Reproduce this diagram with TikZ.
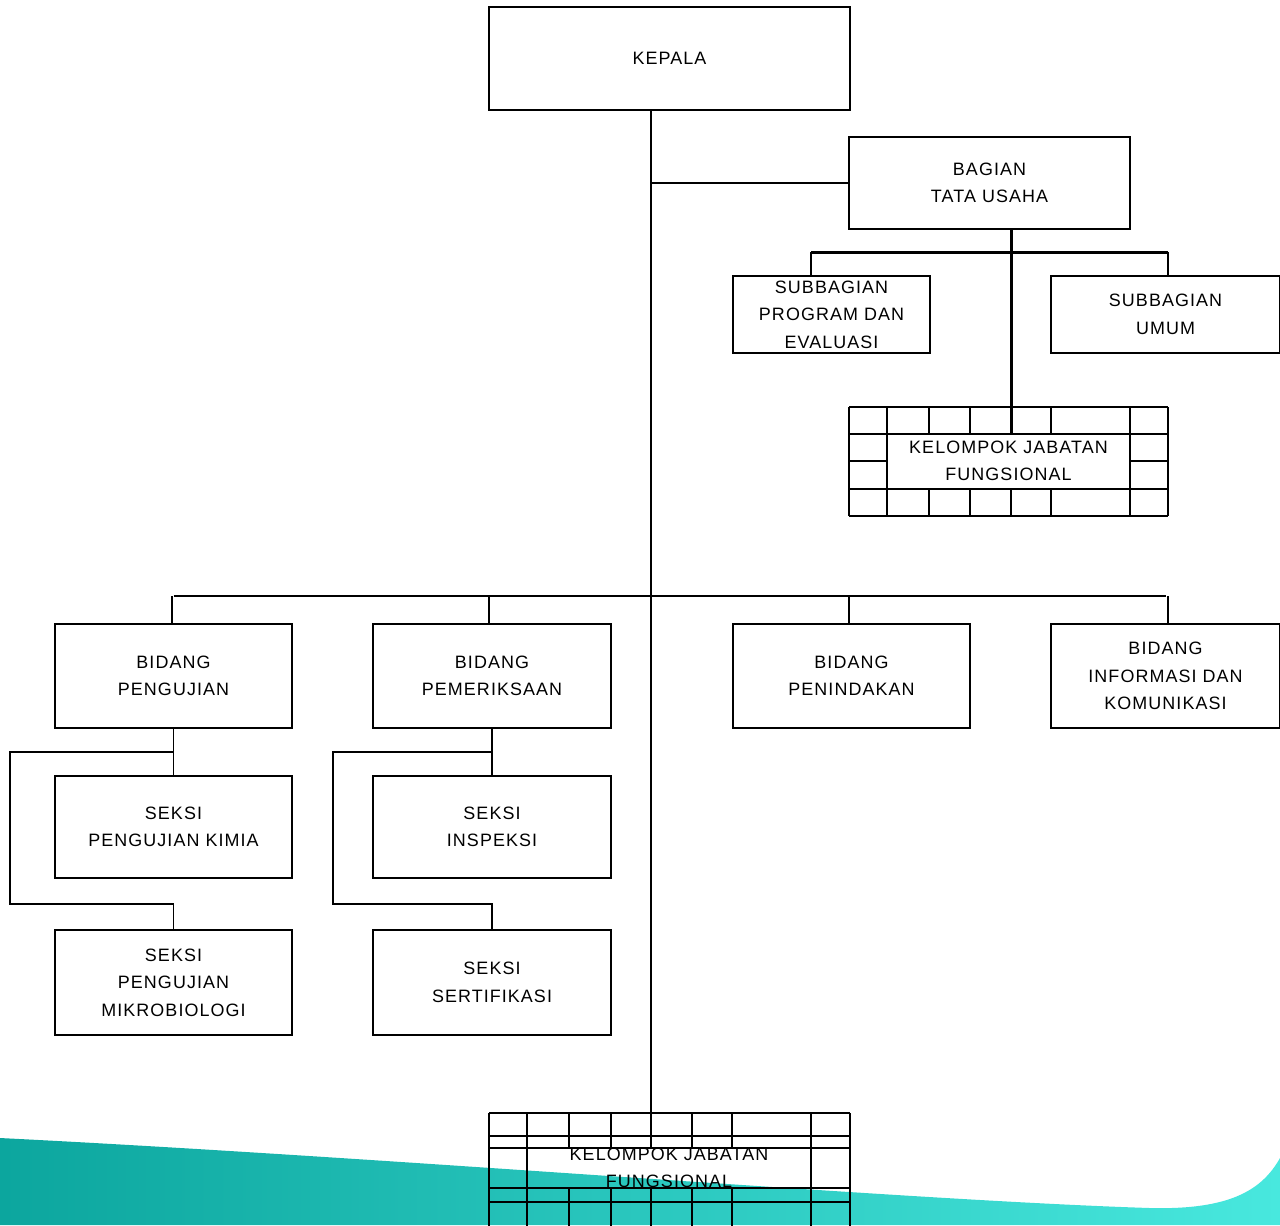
\documentclass[tikz,border=0pt]{standalone}
\usepackage{fontspec}
\setmainfont[LetterSpace=6]{Liberation Sans}
\usepackage{tikz}
\usepackage{xcolor}
\usetikzlibrary{calc}
\definecolor{tealdark}{RGB}{12,166,158}
\definecolor{teallight}{RGB}{72,232,222}

\begin{document}
\begin{tikzpicture}[x=0.02cm, y=-0.02cm,
  line width=0.6pt,
  box/.style={draw, line width=0.8pt, align=center, inner sep=0pt,
    font=\fontsize{10.2}{15.6}\selectfont},
  bar/.style={line width=1.7pt},
  cell/.style={line width=0.7pt},
  bold cell/.style={line width=1.5pt}]
  \useasboundingbox (0,0) rectangle (1280,1225);

  % background wave
  \shade[left color=tealdark, right color=teallight]
    (0,1138) .. controls (400,1158) and (900,1200) .. (1150,1208)
    .. controls (1230,1210) and (1262,1190) .. (1280,1158)
    -- (1280,1225) -- (0,1225) -- cycle;

  % top level
  \node[box, minimum width=7.22cm, minimum height=2.06cm] (kepala) at (669.5,58.5) {KEPALA};
  \node[box, minimum width=5.62cm, minimum height=1.84cm] (tu) at (989.5,183) {BAGIAN\\TATA USAHA};
  \node[box, minimum width=3.94cm, minimum height=1.54cm] (sbprog) at (831.5,314.5) {SUBBAGIAN\\PROGRAM DAN\\EVALUASI};
  \node[box, minimum width=4.58cm, minimum height=1.54cm] (sbumum) at (1165.5,314.5) {SUBBAGIAN\\UMUM};

  % bidang
  \node[box, minimum width=4.74cm, minimum height=2.08cm] (bpengujian) at (173.5,676) {BIDANG\\PENGUJIAN};
  \node[box, minimum width=4.76cm, minimum height=2.08cm] (bpemeriksaan) at (492,676) {BIDANG\\PEMERIKSAAN};
  \node[box, minimum width=4.74cm, minimum height=2.08cm] (bpenindakan) at (851.5,676) {BIDANG\\PENINDAKAN};
  \node[box, minimum width=4.58cm, minimum height=2.08cm] (binfo) at (1165.5,676) {BIDANG\\INFORMASI DAN\\KOMUNIKASI};

  % seksi
  \node[box, minimum width=4.74cm, minimum height=2.04cm] (skimia) at (173.5,827) {SEKSI\\PENGUJIAN KIMIA};
  \node[box, minimum width=4.74cm, minimum height=2.10cm] (smikro) at (173.5,982.5) {SEKSI\\PENGUJIAN\\MIKROBIOLOGI};
  \node[box, minimum width=4.76cm, minimum height=2.04cm] (sinspeksi) at (492,827) {SEKSI\\INSPEKSI};
  \node[box, minimum width=4.76cm, minimum height=2.10cm] (ssertifikasi) at (492,982.5) {SEKSI\\SERTIFIKASI};

  % kelompok jabatan fungsional (text only, grid below)
  \node[box, draw=none, minimum width=4.86cm, minimum height=1.10cm] (kjfa) at (1008.5,461) {KELOMPOK JABATAN\\FUNGSIONAL};
  \node[box, draw=none, minimum width=5.68cm, minimum height=0.80cm] (kjfb) at (669,1168) {KELOMPOK JABATAN\\FUNGSIONAL};

  % grid round upper kjf
  \foreach \y/\s in {407/cell,434/bold cell,489/cell,516/bold cell}
    \draw[\s] (849,\y) -- (1168,\y);
  \draw[cell] (849,461) -- (887,461) (1130,461) -- (1168,461);
  \foreach \x/\s in {849/cell,887/bold cell,1130/cell,1168/cell}
    \draw[\s] (\x,407) -- (\x,516);
  \foreach \x/\s in {929/cell,970/cell,1011/bold cell,1051/cell}
    \draw[\s] (\x,407) -- (\x,434) (\x,489) -- (\x,516);

  % grid round lower kjf
  \foreach \y/\s in {1113/bold cell,1136/cell,1148/cell,1188/cell,1202/cell}
    \draw[\s] (489,\y) -- (850,\y);
  \foreach \x/\s in {489/cell,527/bold cell,811/cell,850/cell}
    \draw[\s] (\x,1113) -- (\x,1230);
  \foreach \x/\s in {569/cell,611/cell,651/cell,692/cell,732/bold cell}
    \draw[\s] (\x,1113) -- (\x,1148) (\x,1188) -- (\x,1230);

  % spine
  \coordinate (sp) at (651,0);
  \coordinate (kjfbtop) at (651,1113);
  \draw (kepala.south -| sp) -- (kjfbtop);
  \draw (sp |- tu.west) -- (tu.west);

  % tata usaha branches
  \coordinate (dropL) at (811,252);
  \coordinate (dropR) at (1168,252);
  \draw[bar] ([xshift=0.43cm]tu.south) -- ([xshift=0.43cm]tu.south |- kjfa.north);
  \draw[bar] (dropL) -- (dropR);
  \draw (dropL) -- (dropL |- sbprog.north);
  \draw (dropR) -- (dropR |- sbumum.north);

  % bidang row
  \coordinate (rowbar) at (0,596);
  \draw (bpengujian.north |- rowbar) -- (binfo.north |- rowbar);
  \foreach \b/\dx in {bpengujian/-0.03cm,bpemeriksaan/-0.06cm,bpenindakan/-0.05cm,binfo/0.05cm}
    \draw ([xshift=\dx]\b.north |- rowbar) -- ([xshift=\dx]\b.north);

  % seksi under pengujian
  \coordinate (lA) at (10,752);
  \coordinate (lB) at (10,904);
  \draw (bpengujian.south) -- (skimia.north);
  \draw (bpengujian.south |- lA) -- (lA) -- (lB) -- (lB -| smikro.north) -- (smikro.north);

  % seksi under pemeriksaan
  \coordinate (rA) at (333,752);
  \coordinate (rB) at (333,904);
  \draw (bpemeriksaan.south) -- (sinspeksi.north);
  \draw (bpemeriksaan.south |- rA) -- (rA) -- (rB) -- (rB -| ssertifikasi.north) -- (ssertifikasi.north);
\end{tikzpicture}
\end{document}
